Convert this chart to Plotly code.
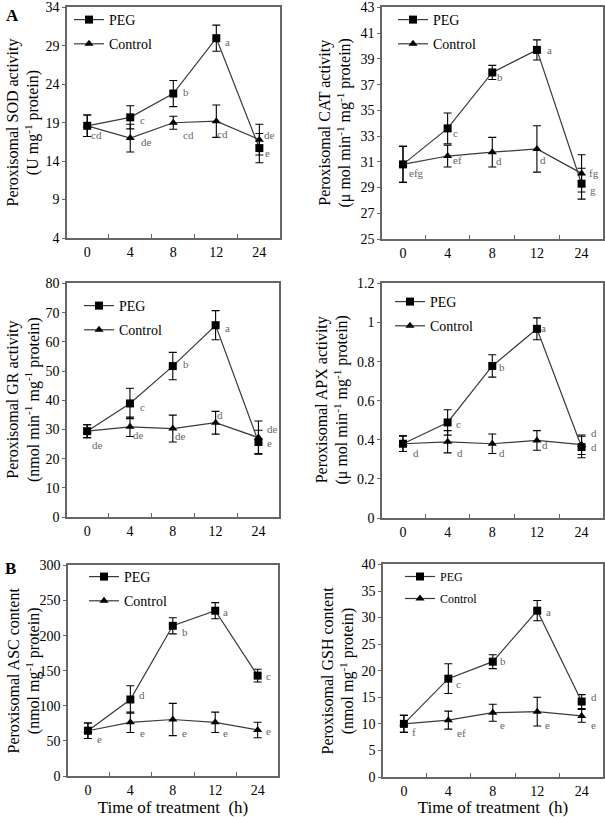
import plotly.graph_objects as go

W, H = 605, 817
FONT = "Liberation Serif, Times New Roman, serif"

time_labels = ["0", "4", "8", "12", "24"]
x_idx = [0, 1, 2, 3, 4]

sod_peg = [18.6, 19.7, 22.8, 30.0, 15.7]
sod_peg_err = [1.4, 1.5, 1.7, 1.7, 1.9]
sod_ctrl = [18.6, 17.0, 19.0, 19.2, 16.8]
sod_ctrl_err = [1.4, 1.8, 0.85, 2.1, 2.0]
sod_peg_letters = ["", "c", "b", "a", "e"]
sod_ctrl_letters = ["cd", "de", "cd", "cd", "de"]

cat_peg = [30.8, 33.6, 37.95, 39.7, 29.3]
cat_peg_err = [1.4, 1.2, 0.55, 0.78, 1.2]
cat_ctrl = [30.8, 31.45, 31.75, 32.0, 30.1]
cat_ctrl_err = [1.4, 0.85, 1.15, 1.8, 1.45]
cat_peg_letters = ["", "c", "b", "a", "g"]
cat_ctrl_letters = ["efg", "ef", "d", "d", "fg"]

gr_peg = [29.4, 38.9, 51.7, 65.7, 25.7]
gr_peg_err = [2.2, 5.2, 4.7, 5.0, 4.0]
gr_ctrl = [29.4, 30.9, 30.3, 32.3, 27.2]
gr_ctrl_err = [2.2, 3.3, 4.6, 3.9, 5.7]
gr_peg_letters = ["", "c", "b", "a", "e"]
gr_ctrl_letters = ["de", "de", "de", "d", "de"]

apx_peg = [0.38, 0.489, 0.778, 0.968, 0.363]
apx_peg_err = [0.04, 0.065, 0.057, 0.056, 0.055]
apx_ctrl = [0.38, 0.39, 0.38, 0.397, 0.375]
apx_ctrl_err = [0.04, 0.057, 0.05, 0.05, 0.05]
apx_peg_letters = ["", "c", "b", "a", "d"]
apx_ctrl_letters = ["d", "d", "d", "d", "d"]

asc_peg = [64.5, 109, 214, 235.5, 143]
asc_peg_err = [11, 19.5, 11.5, 11.5, 9]
asc_ctrl = [64.5, 76.5, 80.5, 76.5, 65.5]
asc_ctrl_err = [11, 14.5, 23, 14.5, 11]
asc_peg_letters = ["", "d", "b", "a", "c"]
asc_ctrl_letters = ["e", "e", "e", "e", "e"]

gsh_peg = [10.0, 18.5, 21.7, 31.3, 14.2]
gsh_peg_err = [1.6, 2.8, 1.3, 1.9, 1.3]
gsh_ctrl = [10.0, 10.7, 12.1, 12.3, 11.5]
gsh_ctrl_err = [1.6, 1.7, 1.6, 2.7, 1.2]
gsh_peg_letters = ["", "c", "b", "a", "d"]
gsh_ctrl_letters = ["f", "ef", "e", "e", "e"]

# label offsets in px (dx right, dy down)
panels = [
    dict(peg=sod_peg, pe=sod_peg_err, ctl=sod_ctrl, ce=sod_ctrl_err,
         pl=sod_peg_letters, cl=sod_ctrl_letters,
         po=[(0, 0), (12, 3), (13, -2), (11, 4), (8, 5)],
         co=[(9, 9), (16, 4), (15, 12), (6, 13), (10, -5)],
         yr=[4, 34], dt=5, box=(67, 7, 280, 238),
         title="Peroxisomal SOD activity<br>(U mg<sup>-1</sup> protein)",
         tx=(13, 33), leg=(69, 4), lfs=14),
    dict(peg=cat_peg, pe=cat_peg_err, ctl=cat_ctrl, ce=cat_ctrl_err,
         pl=cat_peg_letters, cl=cat_ctrl_letters,
         po=[(0, 0), (8, 5), (8, 5), (13, 0), (11, 6)],
         co=[(14, 9), (10, 4), (7, 9), (6, 11), (12, 0)],
         yr=[25, 43], dt=2, box=(382, 7, 603, 239),
         title="Peroxisomal CAT activity<br>(\u03bc mol min<sup>-1</sup> mg<sup>-1</sup> protein)",
         tx=(325, 344), leg=(393, 4), lfs=14),
    dict(peg=gr_peg, pe=gr_peg_err, ctl=gr_ctrl, ce=gr_ctrl_err,
         pl=gr_peg_letters, cl=gr_ctrl_letters,
         po=[(0, 0), (13, 4), (13, -2), (12, 3), (11, 1)],
         co=[(10, 14), (9, 8), (8, 7), (4, -8), (14, -9)],
         yr=[0, 80], dt=10, box=(67, 283, 279, 517),
         title="Peroxisomal GR activity<br>(nmol min<sup>-1</sup> mg<sup>-1</sup> protein)",
         tx=(13, 33), leg=(79, 290), lfs=14),
    dict(peg=apx_peg, pe=apx_peg_err, ctl=apx_ctrl, ce=apx_ctrl_err,
         pl=apx_peg_letters, cl=apx_ctrl_letters,
         po=[(0, 0), (11, 2), (10, 1), (7, -1), (12, 0)],
         co=[(13, 9), (12, 11), (10, 9), (8, 5), (12, -12)],
         yr=[0, 1.2], dt=0.2, box=(382, 283, 603, 518),
         title="Peroxisomal APX activity<br>(\u03bc mol min<sup>-1</sup> mg<sup>-1</sup> protein)",
         tx=(322, 342), leg=(390, 286), lfs=14),
    dict(peg=asc_peg, pe=asc_peg_err, ctl=asc_ctrl, ce=asc_ctrl_err,
         pl=asc_peg_letters, cl=asc_ctrl_letters,
         po=[(0, 0), (12, -4), (12, 6), (10, 1), (11, 0)],
         co=[(12, 8), (12, 11), (12, 14), (10, 11), (11, 1)],
         yr=[0, 300], dt=50, box=(68, 565, 278, 776),
         title="Peroxisomal ASC content<br>(nmol mg<sup>-1</sup> protein)",
         tx=(15, 33), leg=(84, 561), lfs=14),
    dict(peg=gsh_peg, pe=gsh_peg_err, ctl=gsh_ctrl, ce=gsh_ctrl_err,
         pl=gsh_peg_letters, cl=gsh_ctrl_letters,
         po=[(0, 0), (10, 5), (10, -1), (11, 1), (12, -5)],
         co=[(10, 8), (13, 13), (10, 12), (10, 13), (12, 9)],
         yr=[0, 40], dt=5, box=(383, 564, 603, 777),
         title="Peroxisomal GSH content<br>(nmol mg<sup>-1</sup> protein)",
         tx=(330, 346), leg=(400, 562), lfs=12),
]

LINE_COL = "#3a3a3a"
AXIS_COL = "#666666"
LET_COL = "#666666"

fig = go.Figure()
layout = {}
annotations = []

for i, p in enumerate(panels):
    n = i + 1
    xa = "x" if n == 1 else f"x{n}"
    ya = "y" if n == 1 else f"y{n}"
    lg = "legend" if n == 1 else f"legend{n}"
    x0, y0, x1, y1 = p["box"]
    dom_x = [x0 / W, x1 / W]
    dom_y = [1 - y1 / H, 1 - y0 / H]
    for name, vals, errs, sym, grp in [
        ("PEG", p["peg"], p["pe"], "square", "a"),
        ("Control", p["ctl"], p["ce"], "triangle-up", "b"),
    ]:
        fig.add_trace(go.Scatter(
            x=x_idx, y=vals, name=name, mode="lines+markers",
            xaxis=xa, yaxis=ya, legend=lg, legendgroup=f"{grp}{n}",
            line=dict(color=LINE_COL, width=1.2),
            marker=dict(symbol=sym, size=8, color="black"),
            error_y=dict(type="data", array=errs, visible=True,
                         color="black", thickness=1.1, width=4),
        ))
    for vals, letters, offs in [(p["peg"], p["pl"], p["po"]), (p["ctl"], p["cl"], p["co"])]:
        for k in range(5):
            if letters[k]:
                annotations.append(dict(
                    x=x_idx[k], y=vals[k], xref=xa, yref=ya, text=letters[k],
                    showarrow=False, xshift=offs[k][0], yshift=-offs[k][1],
                    font=dict(family=FONT, size=11, color=LET_COL)))
    key_x = "xaxis" if n == 1 else f"xaxis{n}"
    key_y = "yaxis" if n == 1 else f"yaxis{n}"
    layout[key_x] = dict(
        domain=dom_x, anchor=ya, range=[-0.47, 4.48],
        tickmode="array", tickvals=x_idx, ticktext=time_labels, ticks="",
        minor=dict(tickvals=[0.5, 1.5, 2.5, 3.5], ticks="inside", ticklen=4,
                   tickcolor=AXIS_COL, tickwidth=1.2),
        showline=True, linecolor=AXIS_COL, linewidth=1.5, mirror=True,
        showgrid=False, zeroline=False,
        tickfont=dict(family=FONT, size=14, color="black"),
        automargin=False,
    )
    if n in (5, 6):
        layout[key_x]["title"] = dict(text="Time of treatment  (h)",
                                      font=dict(family=FONT, size=17, color="black"),
                                      standoff=4)
    span = p["yr"][1] - p["yr"][0]
    layout[key_y] = dict(
        domain=dom_y, anchor=xa, range=[p["yr"][0], p["yr"][1] + span * 0.002],
        dtick=p["dt"], tick0=p["yr"][0],
        ticks="outside", ticklen=3, tickcolor=AXIS_COL,
        ticklabeloverflow="allow",
        showline=True, linecolor=AXIS_COL, linewidth=1.5, mirror=True,
        showgrid=False, zeroline=False,
        tickfont=dict(family=FONT, size=14, color="black"),
        automargin=False,
    )
    layout[lg] = dict(
        x=p["leg"][0] / W, y=1 - p["leg"][1] / H, xanchor="left", yanchor="top",
        bgcolor="rgba(0,0,0,0)", font=dict(family=FONT, size=p["lfs"], color="black"),
        itemwidth=30, tracegroupgap=3,
    )
    annotations.append(dict(
        x=(p["tx"][0] + p["tx"][1]) / 2 / W, y=1 - (y0 + y1) / 2 / H,
        xref="paper", yref="paper", text=p["title"], textangle=-90,
        showarrow=False, xanchor="center", yanchor="middle",
        font=dict(family=FONT, size=16, color="black")))

annotations.append(dict(x=4 / W, y=1 - 4 / H, xref="paper", yref="paper", text="<b>A</b>",
                        xanchor="left", yanchor="top",
                        showarrow=False, font=dict(family=FONT, size=17, color="black")))
annotations.append(dict(x=3 / W, y=1 - 557 / H, xref="paper", yref="paper", text="<b>B</b>",
                        xanchor="left", yanchor="top",
                        showarrow=False, font=dict(family=FONT, size=17, color="black")))

fig.update_layout(
    width=W, height=H, margin=dict(l=0, r=0, t=0, b=0),
    paper_bgcolor="white", plot_bgcolor="white",
    annotations=annotations, **layout,
)
fig.write_html("out.html", config={"displayModeBar": False},
               post_script="document.body.style.margin='0';document.body.style.padding='0';")
